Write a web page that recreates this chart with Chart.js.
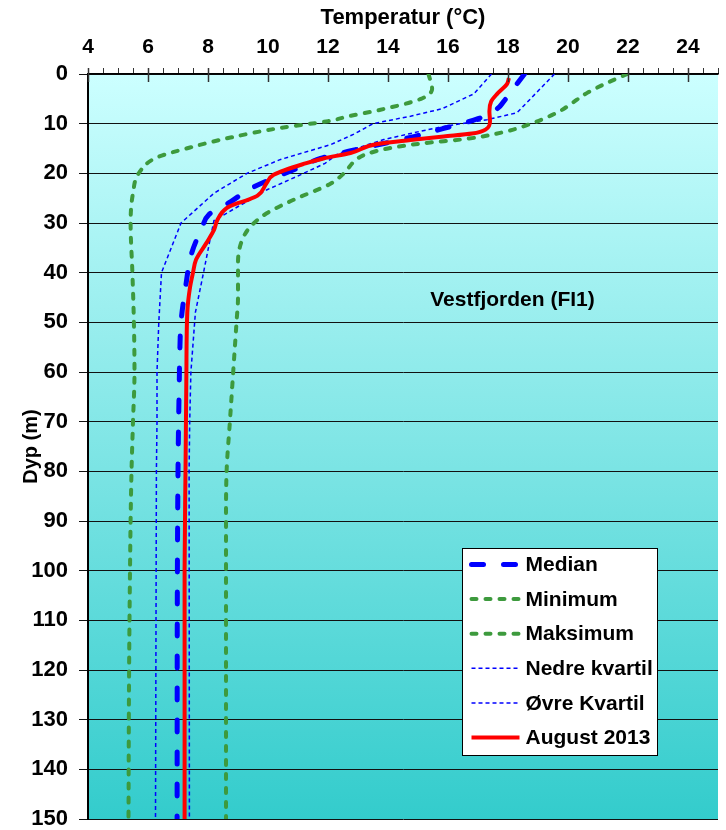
<!DOCTYPE html>
<html>
<head>
<meta charset="utf-8">
<title>Temperatur - Vestfjorden (FI1)</title>
<script src="https://cdn.jsdelivr.net/npm/chart.js@4.4.1/dist/chart.umd.min.js"></script>
<style>
  body { margin: 0; background: #fff; }
  #wrap { width: 726px; height: 830px; }
</style>
</head>
<body>
<div id="wrap"><canvas id="chart"></canvas></div>
<script>
// Temperature profiles, Vestfjorden (FI1) - depth (m) / temperature (°C)

const medianDepth = [0, 2, 5.5, 7, 9, 11, 12.6, 14, 15.4, 17, 19, 23, 25.7, 28.3, 31, 36, 43, 50, 56, 63, 70, 80, 100, 150];
const medianTemp  = [18.55, 18.3, 17.86, 17.64, 17.0, 15.83, 14.86, 13.86, 12.8, 11.75, 10.97, 9.44, 8.76, 8.03, 7.8, 7.46, 7.25, 7.1, 7.06, 7.04, 7.02, 7.0, 6.98, 6.97];

const minDepth = [0, 3, 5, 7.2, 8.5, 9.5, 10.85, 12.8, 14.8, 16.8, 19.9, 24, 30, 40, 50, 60, 70, 80, 90, 100, 120, 150];
const minTemp  = [15.35, 15.47, 15.1, 13.75, 12.7, 12.0, 10.42, 8.75, 7.4, 6.3, 5.7, 5.5, 5.42, 5.48, 5.53, 5.55, 5.5, 5.45, 5.42, 5.4, 5.37, 5.35];

const maxDepth = [0, 1.8, 3.8, 6.1, 7.5, 9.8, 11.7, 13, 14, 15, 16.2, 17.2, 20, 22.1, 25.3, 28, 30.7, 33.4, 38, 45, 50, 60, 70, 80, 90, 150];
const maxTemp  = [21.98, 21.3, 20.64, 20.08, 19.72, 18.86, 17.85, 16.7, 15.1, 14.0, 13.25, 12.95, 12.53, 12.08, 10.86, 9.97, 9.42, 9.14, 9.0, 9.0, 8.95, 8.84, 8.73, 8.62, 8.6, 8.6];

const lowQDepth = [0, 4, 7, 8.5, 10, 12, 14.2, 17.2, 20, 24, 30, 40, 50, 60, 70, 80, 150];
const lowQTemp  = [17.45, 16.86, 15.8, 14.75, 13.5, 12.9, 12.1, 10.42, 9.3, 8.2, 7.1, 6.45, 6.36, 6.3, 6.3, 6.28, 6.25];

const upQDepth = [0, 7.8, 9.2, 10.5, 11.5, 13.2, 16.2, 18, 20.3, 23.3, 29.5, 33, 40, 48, 60, 70, 80, 150];
const upQTemp  = [19.55, 18.3, 17.3, 15.9, 15.1, 13.86, 12.3, 11.9, 11.08, 9.97, 8.2, 8.08, 7.85, 7.58, 7.43, 7.39, 7.37, 7.38];

const aug2013Depth = [0.8, 2, 4, 5.5, 7.5, 9.5, 11.2, 12, 12.6, 13.3, 14.1, 15.9, 17, 18, 20.3, 22, 24.5, 25.3, 26.2, 27, 29.3, 31.4, 34, 37.4, 40, 43, 48, 60, 80, 100, 150];
const aug2013Temp  = [18.03, 17.97, 17.64, 17.44, 17.38, 17.4, 17.25, 16.8, 15.86, 14.75, 13.64, 12.75, 11.85, 11.25, 10.19, 9.95, 9.65, 9.35, 8.9, 8.62, 8.32, 8.2, 7.95, 7.6, 7.5, 7.4, 7.31, 7.28, 7.25, 7.22, 7.22];

const xTickLabels = [4, 6, 8, 10, 12, 14, 16, 18, 20, 22, 24];
const stationLabel = 'Vestfjorden (FI1)';

const FONT = "'Liberation Sans', Arial, sans-serif";
const BLUE = '#0000FF';
const GREEN = '#3D9A3D';
const RED = '#FF0000';

const pts = (depth, temp) => depth.map((d, i) => ({ x: temp[i], y: d }));

const datasets = [
    { label: 'Median', data: pts(medianDepth, medianTemp), borderColor: BLUE, borderWidth: 5,
      borderDash: [12, 20], borderCapStyle: 'round', cubicInterpolationMode: 'monotone', order: 1 },
    { label: 'Minimum', data: pts(minDepth, minTemp), borderColor: GREEN, borderWidth: 4,
      borderDash: [5, 9], borderCapStyle: 'round', cubicInterpolationMode: 'monotone', order: 3 },
    { label: 'Maksimum', data: pts(maxDepth, maxTemp), borderColor: GREEN, borderWidth: 4,
      borderDash: [5, 9], borderCapStyle: 'round', cubicInterpolationMode: 'monotone', order: 3 },
    { label: 'Nedre kvartil', data: pts(lowQDepth, lowQTemp), borderColor: BLUE, borderWidth: 1.5,
      borderDash: [4, 3], tension: 0, order: 2 },
    { label: 'Øvre Kvartil', data: pts(upQDepth, upQTemp), borderColor: BLUE, borderWidth: 1.5,
      borderDash: [4, 3], tension: 0, order: 2 },
    { label: 'August 2013', data: pts(aug2013Depth, aug2013Temp), borderColor: RED, borderWidth: 4,
      cubicInterpolationMode: 'monotone', order: 0 }
];

// gradient plot background
const bgPlugin = {
    id: 'plotBg',
    beforeDraw(chart) {
        const { ctx, chartArea: a } = chart;
        const g = ctx.createLinearGradient(0, a.top, 0, a.bottom);
        g.addColorStop(0, '#CCFFFF');
        g.addColorStop(1, '#33CCCC');
        ctx.save();
        ctx.fillStyle = g;
        ctx.fillRect(a.left, a.top, a.right - a.left, a.bottom - a.top);
        ctx.restore();
    }
};

// major ticks reaching into the plot, station label, legend box
const extrasPlugin = {
    id: 'extras',
    afterDraw(chart) {
        const { ctx, chartArea: a, scales } = chart;
        ctx.save();

        ctx.strokeStyle = '#333';
        ctx.lineWidth = 1.5;
        xTickLabels.forEach(v => {
            const px = Math.round(scales.x.getPixelForValue(v)) + 0.5;
            ctx.beginPath();
            ctx.moveTo(px, a.top - 6);
            ctx.lineTo(px, a.top + 8);
            ctx.stroke();
        });

        ctx.fillStyle = '#000';
        ctx.font = `bold 21px ${FONT}`;
        ctx.textAlign = 'center';
        ctx.textBaseline = 'middle';
        ctx.fillText(stationLabel, scales.x.getPixelForValue(18.15), scales.y.getPixelForValue(45.5));

        // legend
        const box = { left: 462.5, top: 548.5, width: 195, height: 207 };
        ctx.fillStyle = '#fff';
        ctx.fillRect(box.left, box.top, box.width, box.height);
        ctx.strokeStyle = '#000';
        ctx.lineWidth = 1;
        ctx.setLineDash([]);
        ctx.strokeRect(box.left, box.top, box.width, box.height);

        ctx.textAlign = 'left';
        datasets.forEach((ds, i) => {
            const y = box.top + 16 + i * 34.6;
            ctx.beginPath();
            ctx.strokeStyle = ds.borderColor;
            ctx.lineWidth = ds.borderWidth;
            ctx.lineCap = ds.borderCapStyle || 'butt';
            ctx.setLineDash(ds.borderDash || []);
            ctx.moveTo(box.left + 9, y);
            ctx.lineTo(box.left + 57, y);
            ctx.stroke();
            ctx.fillStyle = '#000';
            ctx.fillText(ds.label, box.left + 63, y + 1);
        });
        ctx.restore();
    }
};

new Chart(document.getElementById('chart'), {
    type: 'line',
    data: { datasets },
    options: {
        indexAxis: 'y',
        responsive: true,
        maintainAspectRatio: false,
        animation: false,
        layout: { padding: { top: 0, left: 0, right: 8, bottom: 11 } },
        elements: { point: { radius: 0 } },
        plugins: {
            legend: { display: false },
            tooltip: { enabled: false }
        },
        scales: {
            x: {
                type: 'linear',
                position: 'top',
                min: 4,
                max: 25,
                ticks: {
                    stepSize: 0.5,
                    autoSkip: false,
                    maxRotation: 0,
                    padding: 8,
                    color: '#000',
                    font: { family: FONT, size: 21, weight: 'bold' },
                    callback: v => xTickLabels.includes(v) ? v : ''
                },
                grid: { drawOnChartArea: false, tickLength: 6, color: '#333' },
                border: { color: '#000', width: 1.5 },
                title: {
                    display: true,
                    text: 'Temperatur (°C)',
                    color: '#000',
                    padding: { top: 5, bottom: 0 },
                    font: { family: FONT, size: 22, weight: 'bold' }
                },
                afterFit(scale) {
                    scale.height = 74;
                    scale.paddingLeft = 0;
                    scale.paddingRight = 0;
                }
            },
            y: {
                type: 'linear',
                reverse: true,
                min: 0,
                max: 150,
                ticks: {
                    stepSize: 10,
                    padding: 11,
                    color: '#000',
                    font: { family: FONT, size: 22, weight: 'bold' }
                },
                grid: { color: '#111', lineWidth: 1, tickLength: 9 },
                border: { color: '#000', width: 2 },
                title: {
                    display: true,
                    text: 'Dyp (m)',
                    color: '#000',
                    padding: { top: 19, bottom: 0 },
                    font: { family: FONT, size: 20, weight: 'bold' }
                },
                afterFit(scale) {
                    scale.width = 88;
                    scale.paddingTop = 0;
                    scale.paddingBottom = 0;
                }
            }
        }
    },
    plugins: [bgPlugin, extrasPlugin]
});
</script>
</body>
</html>
